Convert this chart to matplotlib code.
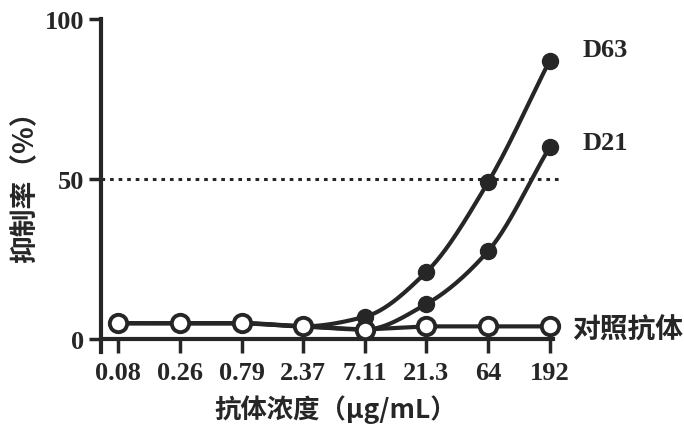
import numpy as np
import matplotlib
matplotlib.use("Agg")
import matplotlib.pyplot as plt

# ---- data ----
concentrations = ["0.08", "0.26", "0.79", "2.37", "7.11", "21.3", "64", "192"]
d63 = [5, 5, 5, 4, 7, 21, 49, 87]
d21 = [5, 5, 5, 4, 3, 11, 27.5, 60]
control = [5, 5, 5, 4, 3, 4, 4, 4]
y_ticks = [0, 50, 100]
ref_level = 50

plt.rcParams['font.family'] = ['Liberation Serif', 'DejaVu Serif']
CJK = ['Noto Sans CJK SC', 'DejaVu Sans']


def pchip(x, y, n=200):
    x = np.asarray(x, float)
    y = np.asarray(y, float)
    h = np.diff(x)
    delta = np.diff(y) / h
    m = np.zeros_like(y)
    for k in range(1, len(y) - 1):
        if delta[k - 1] * delta[k] > 0:
            w1 = 2 * h[k] + h[k - 1]
            w2 = h[k] + 2 * h[k - 1]
            m[k] = (w1 + w2) / (w1 / delta[k - 1] + w2 / delta[k])
    m[0] = delta[0]
    m[-1] = delta[-1]
    xs = np.linspace(x[0], x[-1], n)
    ys = np.empty_like(xs)
    for i, xv in enumerate(xs):
        k = min(np.searchsorted(x, xv, side='right') - 1, len(x) - 2)
        t = (xv - x[k]) / h[k]
        h00 = 2 * t**3 - 3 * t**2 + 1
        h10 = t**3 - 2 * t**2 + t
        h01 = -2 * t**3 + 3 * t**2
        h11 = t**3 - t**2
        ys[i] = h00 * y[k] + h10 * h[k] * m[k] + h01 * y[k + 1] + h11 * h[k] * m[k + 1]
    return xs, ys


fig = plt.figure(figsize=(6.84, 4.39), dpi=100)
ax = fig.add_axes([101 / 684, 1 - 353 / 439, (562 - 101) / 684, (353 - 20) / 439])

x = np.arange(len(concentrations))
col = '#262626'

ax.axhline(ref_level, color=col, lw=2.2, ls=(0, (1.2, 1.6)), zorder=1)

for series in (d63, d21):
    xs, ys = pchip(x, series)
    ax.plot(xs, ys, color=col, lw=3, zorder=2, solid_capstyle='round')
    ax.plot(x, series, 'o', color=col, ms=11.5, zorder=3)

ax.plot(x, control, color=col, lw=3, zorder=4)
ax.plot(x, control, 'o', mfc='white', mec=col, mew=2.8, ms=12.5, zorder=5)

ax.set_xlim(-0.28, 7.2)
ax.set_ylim(-4, 100)
ax.set_xticks(x)
ax.set_xticklabels(concentrations)
ax.set_yticks(y_ticks)

for s in ('top', 'right'):
    ax.spines[s].set_visible(False)
ax.spines['left'].set_linewidth(3)
ax.spines['left'].set_color(col)
ax.spines['bottom'].set_position(('data', 0))
ax.spines['bottom'].set_linewidth(3)
ax.spines['bottom'].set_color(col)
ax.spines['bottom'].set_bounds(-0.28, 7.05)

ax.tick_params(axis='x', length=10, width=2.5, color=col, pad=6,
               labelsize=19, labelcolor=col)
ax.tick_params(axis='y', length=9, width=2.5, color=col, pad=3,
               labelsize=19, labelcolor=col)
for lab in ax.get_xticklabels() + ax.get_yticklabels():
    lab.set_fontweight('bold')

ax.set_xlabel('抗体浓度（μg/mL）', family=CJK, fontsize=19, fontweight='bold',
              color=col)
ax.xaxis.set_label_coords((336 - 101) / 461, -(410 - 353) / 333)
ax.xaxis.label.set_va('center')
ax.set_ylabel('抑制率（%）', family=CJK, fontsize=20, fontweight='bold',
              color=col)
ax.yaxis.set_label_coords(-(101 - 25) / 461, (353 - 180) / 333)
ax.yaxis.label.set_va('center')

ax.text(7.54, d63[-1] + 3.5, 'D63', fontsize=19, fontweight='bold', color=col,
        ha='left', va='center', clip_on=False)
ax.text(7.54, d21[-1] + 1.3, 'D21', fontsize=19, fontweight='bold', color=col,
        ha='left', va='center', clip_on=False)
ax.text(7.37, control[-1] - 0.9, '对照抗体', family=CJK, fontsize=20, fontweight='bold',
        color=col, ha='left', va='center', clip_on=False)

fig.savefig('out.png', dpi=100)
